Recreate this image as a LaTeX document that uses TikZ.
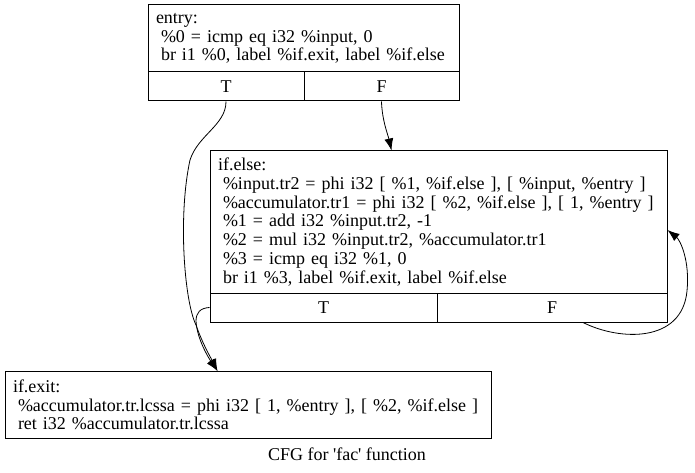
\documentclass[tikz,border=0pt]{standalone}
\usepackage{fontspec}
\setmainfont{Liberation Serif}
\usetikzlibrary{arrows.meta}

\newcommand{\ind}{\hspace*{5pt}}

\begin{document}
\begin{tikzpicture}[x=1pt, y=-1pt,
    block/.style={draw, line width=1pt, rectangle, align=left, inner xsep=8pt, inner ysep=0pt, font=\fontsize{18}{18.7}\selectfont},
    cell/.style={draw, line width=1pt, rectangle, inner sep=0pt, minimum height=29pt, font=\fontsize{18}{18.7}\selectfont},
    flow/.style={line width=0.8pt, >={Latex[length=12pt,width=9pt]}, ->}]
    \useasboundingbox (0,0) rectangle (695,473);

    \node (entry) [block, minimum width=311pt, minimum height=67pt, text width=295pt] at (303.5,38.5) {entry:\\\ind\%0 = icmp eq i32 \%input, 0\\\ind br i1 \%0, label \%if.exit, label \%if.else};
    \node (entryT) [cell, minimum width=156pt] at (226,86.5) {T};
    \node (entryF) [cell, minimum width=155pt] at (381.5,86.5) {F};

    \node (else) [block, minimum width=457pt, minimum height=142pt, text width=441pt] at (438.5,222) {if.else:\\\ind\%input.tr2 = phi i32 [ \%1, \%if.else ], [ \%input, \%entry ]\\\ind\%accumulator.tr1 = phi i32 [ \%2, \%if.else ], [ 1, \%entry ]\\\ind\%1 = add i32 \%input.tr2, -1\\\ind\%2 = mul i32 \%input.tr2, \%accumulator.tr1\\\ind\%3 = icmp eq i32 \%1, 0\\\ind br i1 \%3, label \%if.exit, label \%if.else};
    \node (elseT) [cell, minimum width=227pt] at (323.5,307.5) {T};
    \node (elseF) [cell, minimum width=230pt] at (552,307.5) {F};

    \node (exit) [block, minimum width=486pt, minimum height=67pt, text width=470pt] at (248,405) {if.exit:\\\ind\%accumulator.tr.lcssa = phi i32 [ 1, \%entry ], [ \%2, \%if.else ]\\\ind ret i32 \%accumulator.tr.lcssa};

    \node (caption) [font=\fontsize{18}{18.7}\selectfont] at (347,454) {CFG for \textquotesingle fac\textquotesingle{} function};

    % edges
    \draw[flow] (entryT.south) .. controls (226,125) and (198,135) .. (190,160) .. controls (178,215) and (184,300) .. (196,325) .. controls (203,345) and (212,360) .. ([xshift=213pt]exit.north west);
    \draw[flow] (entryF.south) .. controls (382,120) and (388,135) .. ([xshift=182pt]else.north west);
    \draw[flow] (elseT.west) .. controls (200,308) and (196,313) .. (196,321) .. controls (197,340) and (210,360) .. ([xshift=213pt]exit.north west);
    \draw[flow] ([xshift=31pt]elseF.south) .. controls (620,341) and (682,343) .. (687,291) .. controls (690,260) and (680,240) .. ([yshift=-8pt]else.east);
\end{tikzpicture}
\end{document}
